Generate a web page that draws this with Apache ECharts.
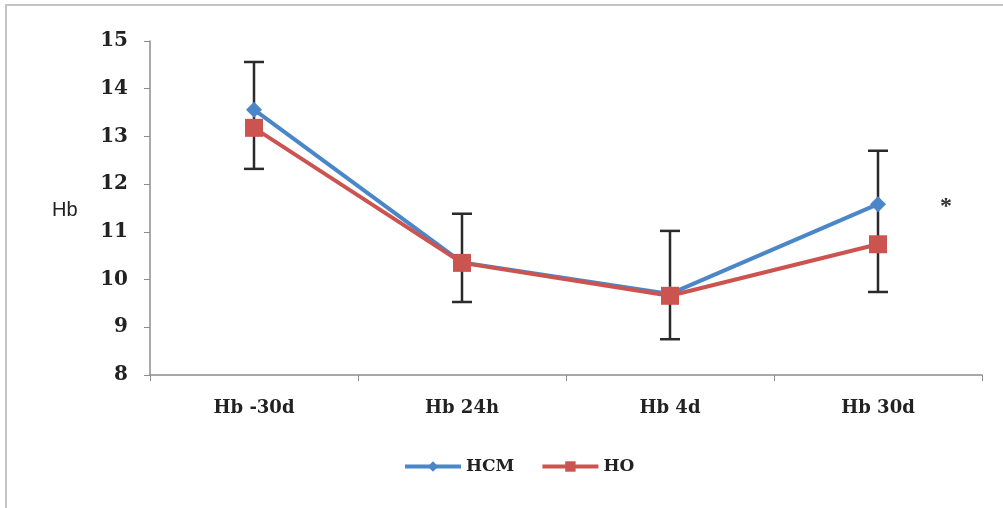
<!DOCTYPE html>
<html>
<head>
<meta charset="utf-8">
<script src="https://cdn.jsdelivr.net/npm/echarts@6/dist/echarts.min.js"></script>
<style>html,body{margin:0;padding:0;background:#fff}#c{width:1003px;height:508px}</style>
</head>
<body>
<div id="c"></div>
<script>
var categories = ['Hb -30d', 'Hb 24h', 'Hb 4d', 'Hb 30d'];
var hcm = [13.56, 10.36, 9.7, 11.58];
var ho = [13.18, 10.35, 9.66, 10.74];
var errHigh = [14.56, 11.38, 11.02, 12.7];
var errLow = [12.32, 9.53, 8.75, 9.74];
var yTicks = [8, 9, 10, 11, 12, 13, 14, 15];

var chart = echarts.init(document.getElementById('c'));
var labelFont = '"DejaVu Serif", "Liberation Serif", serif';
chart.setOption({
  animation: false,
  backgroundColor: '#fff',
  grid: { left: 150, right: 21, top: 41, bottom: 133 },
  graphic: [
    { type: 'rect', shape: { x: 6, y: 5, width: 1010, height: 520 }, style: { fill: 'none', stroke: '#c4c4c4', lineWidth: 2 }, silent: true },
    { type: 'text', left: 52, top: 200, style: { text: 'Hb', font: '20px "Liberation Sans", Arial, sans-serif', fill: '#222' } },
    { type: 'text', left: 940, top: 195, style: { text: '*', font: 'bold 24px "Liberation Serif", serif', fill: '#333' } }
  ],
  legend: {
    bottom: 28, left: 398,
    itemWidth: 56, itemHeight: 13, itemGap: 26,
    lineStyle: { width: 4 },
    textStyle: { fontFamily: labelFont, fontWeight: 'bold', fontSize: 17, color: '#222' },
    data: ['HCM', 'HO']
  },
  xAxis: {
    type: 'category', data: categories, boundaryGap: true,
    axisLine: { lineStyle: { color: '#8c8c8c', width: 1.5 } },
    axisTick: { show: true, length: 6, lineStyle: { color: '#8c8c8c' } },
    axisLabel: { margin: 24, fontFamily: labelFont, fontWeight: 'bold', fontSize: 18, color: '#222' }
  },
  yAxis: {
    type: 'value', min: 8, max: 15, interval: 1,
    axisLine: { show: true, lineStyle: { color: '#8c8c8c', width: 1.5 } },
    axisTick: { show: true, length: 6, lineStyle: { color: '#8c8c8c' } },
    splitLine: { show: false },
    axisLabel: { margin: 22, fontFamily: labelFont, fontWeight: 'bold', fontSize: 20, color: '#222',
      formatter: function (v) { return yTicks.indexOf(v) >= 0 ? String(v) : ''; } }
  },
  series: [
    {
      name: 'HCM', type: 'line', data: hcm, symbol: 'diamond', symbolSize: 16,
      lineStyle: { color: '#4a86c8', width: 4 }, itemStyle: { color: '#4a86c8' }, z: 3
    },
    {
      name: 'HO', type: 'line', data: ho, symbol: 'rect', symbolSize: 18,
      lineStyle: { color: '#cc5450', width: 4 }, itemStyle: { color: '#cc5450' }, z: 4
    },
    {
      name: 'err', type: 'custom', z: 2,
      data: categories.map(function (c, i) { return [i, errLow[i], errHigh[i]]; }),
      renderItem: function (params, api) {
        var i = api.value(0);
        var lo = api.coord([i, api.value(1)]);
        var hi = api.coord([i, api.value(2)]);
        var w = 10;
        var st = { stroke: '#2a2a2a', lineWidth: 2.5 };
        return { type: 'group', children: [
          { type: 'line', shape: { x1: hi[0], y1: hi[1], x2: lo[0], y2: lo[1] }, style: st },
          { type: 'line', shape: { x1: hi[0] - w, y1: hi[1], x2: hi[0] + w, y2: hi[1] }, style: st },
          { type: 'line', shape: { x1: lo[0] - w, y1: lo[1], x2: lo[0] + w, y2: lo[1] }, style: st }
        ] };
      }
    }
  ]
});
</script>
</body>
</html>
